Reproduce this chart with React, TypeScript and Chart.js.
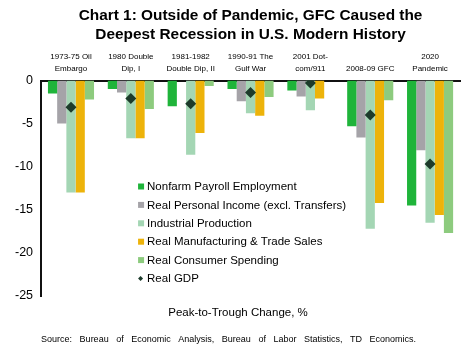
import React, { useEffect, useRef } from "react";
import { Chart, registerables } from "chart.js";

Chart.register(...registerables);

const categories: string[][] = [
  ["1973-75 Oil", "Embargo"],
  ["1980 Double", "Dip, I"],
  ["1981-1982", "Double Dip, II"],
  ["1990-91 The", "Gulf War"],
  ["2001 Dot-", "com/911"],
  ["2008-09 GFC"],
  ["2020", "Pandemic"],
];

const nonfarmPayroll = [-1.5, -1.0, -3.0, -1.0, -1.15, -5.3, -14.5];
const realPersonalIncome = [-5.0, -1.4, 0, -2.4, -1.85, -6.6, -8.1];
const industrialProduction = [-13.0, -6.7, -8.6, -3.8, -3.45, -17.2, -16.5];
const realManufacturingSales = [-13.0, -6.7, -6.1, -4.1, -2.1, -14.2, -15.6];
const realConsumerSpending = [-2.2, -3.3, -0.65, -1.9, 0, -2.3, -17.7];
const realGDP = [-3.1, -2.1, -2.7, -1.4, -0.3, -4.0, -9.7];

const yTicks = [0, -5, -10, -15, -20, -25];

const titleLines = [
  "Chart 1: Outside of Pandemic, GFC Caused the",
  "Deepest Recession in U.S. Modern History",
];
const axisCaption = "Peak-to-Trough Change, %";
const sourceText =
  "Source: Bureau of Economic Analysis, Bureau of Labor Statistics, TD Economics.";

const FONT = "'Liberation Sans', Arial, Helvetica, sans-serif";

const overlayPlugin = {
  id: "overlayText",
  afterDatasetsDraw(chart: any) {
    const { ctx, chartArea } = chart;
    ctx.save();
    // Legend
    const lx = chartArea.left + 97;
    const ly = chartArea.top + 106;
    const step = 18.4;
    ctx.font = `11.5px ${FONT}`;
    ctx.textBaseline = "middle";
    ctx.textAlign = "left";
    chart.data.datasets.forEach((ds: any, i: number) => {
      const y = ly + i * step;
      if (ds.type === "line") {
        ctx.fillStyle = ds.backgroundColor;
        ctx.beginPath();
        ctx.moveTo(lx + 2.5, y - 2.5);
        ctx.lineTo(lx + 5, y);
        ctx.lineTo(lx + 2.5, y + 2.5);
        ctx.lineTo(lx, y);
        ctx.closePath();
        ctx.fill();
      } else {
        ctx.fillStyle = ds.backgroundColor;
        ctx.fillRect(lx, y - 3, 6, 6);
      }
      ctx.fillStyle = "#000";
      ctx.fillText(ds.label, lx + 9, y + 0.5);
    });
    // Axis caption
    ctx.textAlign = "center";
    ctx.font = `11.5px ${FONT}`;
    ctx.fillText(axisCaption, 238, chartArea.bottom + 17);
    // Source (justified across a fixed width)
    ctx.textAlign = "left";
    ctx.font = `9px ${FONT}`;
    const words = sourceText.split(" ");
    const totalWidth = 375;
    const wordsWidth = words.reduce((s, w) => s + ctx.measureText(w).width, 0);
    const gap = (totalWidth - wordsWidth) / (words.length - 1);
    let x = chartArea.left;
    words.forEach((w) => {
      ctx.fillText(w, x, chartArea.bottom + 44);
      x += ctx.measureText(w).width + gap;
    });
    ctx.restore();
  },
};

export default function App() {
  const ref = useRef<HTMLCanvasElement>(null);
  useEffect(() => {
    document.body.style.margin = "0";
    const bar = (label: string, data: number[], color: string) => ({
      type: "bar" as const,
      label,
      data,
      backgroundColor: color,
      borderWidth: 0,
      order: 1,
      categoryPercentage: 0.77,
      barPercentage: 1.0,
    });
    const chart = new Chart(ref.current!, {
      type: "bar",
      data: {
        labels: categories,
        datasets: [
          bar("Nonfarm Payroll Employment", nonfarmPayroll, "#1fb43a"),
          bar("Real Personal Income (excl. Transfers)", realPersonalIncome, "#a5a3a8"),
          bar("Industrial Production", industrialProduction, "#a4d6b4"),
          bar("Real Manufacturing & Trade Sales", realManufacturingSales, "#edb30a"),
          bar("Real Consumer Spending", realConsumerSpending, "#8dcb7e"),
          {
            type: "line" as const,
            label: "Real GDP",
            data: realGDP,
            showLine: false,
            backgroundColor: "#1d3b2b",
            borderColor: "#1d3b2b",
            pointStyle: "rectRot",
            pointRadius: 5.5,
            pointBorderWidth: 0,
            order: 0,
          } as any,
        ],
      },
      options: {
        animation: false,
        responsive: false,
        maintainAspectRatio: false,
        layout: { padding: { left: 7, right: 14, top: 0, bottom: 57 } },
        plugins: {
          legend: { display: false },
          tooltip: { enabled: false },
          title: {
            display: true,
            text: titleLines,
            fullSize: false,
            color: "#000",
            font: { family: FONT, size: 15.4, weight: "bold", lineHeight: 1.25 },
            padding: { top: 6, bottom: 0 },
          },
        },
        scales: {
          x: {
            position: "top",
            grid: { display: false, drawTicks: false },
            border: { display: true, color: "#111", width: 2 },
            ticks: {
              color: "#000",
              maxRotation: 0,
              autoSkip: false,
              padding: 6,
              font: { family: FONT, size: 8, lineHeight: 1.5 },
            },
          },
          y: {
            min: -25,
            max: 0,
            afterBuildTicks: (scale: any) => {
              scale.ticks = yTicks.map((v) => ({ value: v }));
            },
            grid: { display: false, drawTicks: false },
            border: { display: true, color: "#111", width: 2 },
            ticks: {
              color: "#000",
              padding: 8,
              font: { family: FONT, size: 12.5 },
            },
          },
        },
      },
      plugins: [overlayPlugin],
    });
    return () => chart.destroy();
  }, []);
  return (
    <div style={{ width: 474, height: 353 }}>
      <canvas ref={ref} width={474} height={353} style={{ display: "block" }} />
    </div>
  );
}
